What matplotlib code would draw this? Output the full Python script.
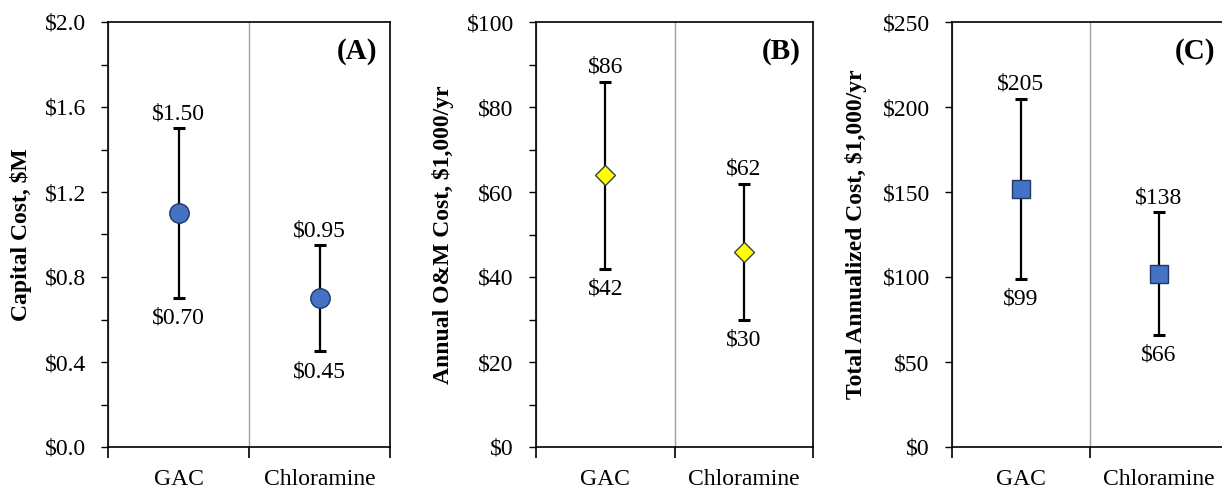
import matplotlib
matplotlib.use("Agg")
import matplotlib.pyplot as plt
from matplotlib.ticker import MultipleLocator, FuncFormatter, FixedLocator
import numpy as np

plt.rcParams['font.family'] = ['Liberation Serif', 'DejaVu Serif']

categories = ["GAC", "Chloramine"]

# Panel A: capital cost, $M
cap_mid = [1.10, 0.70]
cap_low = [0.70, 0.45]
cap_high = [1.50, 0.95]

# Panel B: annual O&M cost, $1,000/yr
om_mid = [64, 46]
om_low = [42, 30]
om_high = [86, 62]

# Panel C: total annualized cost, $1,000/yr
tot_mid = [152, 102]
tot_low = [99, 66]
tot_high = [205, 138]

W, H = 1222, 492
fig = plt.figure(figsize=(W / 100, H / 100), dpi=100)

bottom = (492 - 447) / H
height = 425 / H
FS = 17

panels = [
    dict(left=108 / W, width=282 / W, mid=cap_mid, low=cap_low, high=cap_high,
         ylim=(0, 2.0), major=0.4, minor=0.2, fmt=lambda v: "\\$%.1f" % v,
         lfmt=lambda v: "\\$%.2f" % v, ylabel="Capital Cost, \\$M", tag="(A)",
         marker="o", ms=14, fc="#4472C4", ec="#1F3864", ylx=21),
    dict(left=536 / W, width=277 / W, mid=om_mid, low=om_low, high=om_high,
         ylim=(0, 100), major=20, minor=10, fmt=lambda v: "\\$%d" % round(v),
         lfmt=lambda v: "\\$%d" % round(v), ylabel="Annual O&M Cost, \\$1,000/yr", tag="(B)",
         marker="D", ms=10, fc="#FFFF00", ec="#404040", ylx=443),
    dict(left=952 / W, width=276 / W, mid=tot_mid, low=tot_low, high=tot_high,
         ylim=(0, 250), major=50, minor=None, fmt=lambda v: "\\$%d" % round(v),
         lfmt=lambda v: "\\$%d" % round(v), ylabel="Total Annualized Cost, \\$1,000/yr", tag="(C)",
         marker="s", ms=12.5, fc="#4472C4", ec="#1F3864", ylx=856),
]

x = np.arange(len(categories))

for p in panels:
    ax = fig.add_axes([p["left"], bottom, p["width"], height])
    mid = np.array(p["mid"], dtype=float)
    low = np.array(p["low"], dtype=float)
    high = np.array(p["high"], dtype=float)
    ax.errorbar(x, mid, yerr=[mid - low, high - mid], fmt="none", ecolor="black",
                elinewidth=1.6, capsize=4.5, capthick=2.2, zorder=3)
    ax.plot(x, mid, linestyle="none", marker=p["marker"], markersize=p["ms"],
            markerfacecolor=p["fc"], markeredgecolor=p["ec"], markeredgewidth=1.0, zorder=4)
    for xi, lo, hi in zip(x, low, high):
        ax.annotate(p["lfmt"](hi), (xi, hi), xytext=(0, 6.5), textcoords="offset points",
                    ha="center", va="baseline", fontsize=FS)
        ax.annotate(p["lfmt"](lo), (xi, lo), xytext=(0, -7), textcoords="offset points",
                    ha="center", va="top", fontsize=FS)
    ax.set_xlim(-0.5, len(categories) - 0.5)
    ax.set_ylim(*p["ylim"])
    ax.xaxis.set_major_locator(FixedLocator(np.arange(-0.5, len(categories), 1.0)))
    ax.set_xticks(x, categories, minor=True)
    ax.tick_params(axis="x", which="major", direction="out", length=8, width=1.2, labelbottom=False)
    ax.tick_params(axis="x", which="minor", length=0, labelsize=FS, pad=16)
    ax.xaxis.grid(True, which="major", color="#A0A0A0", linewidth=1.0)
    ax.yaxis.set_major_locator(MultipleLocator(p["major"]))
    if p["minor"]:
        ax.yaxis.set_minor_locator(MultipleLocator(p["minor"]))
    ax.yaxis.set_major_formatter(FuncFormatter(lambda v, pos, f=p["fmt"]: f(v)))
    ax.tick_params(axis="y", which="both", direction="out", length=5, width=1.0, labelsize=FS, pad=11)
    for s in ax.spines.values():
        s.set_linewidth(1.2)
        s.set_color("black")
    ax.text(0.955, 0.93, p["tag"], transform=ax.transAxes, ha="right", va="center",
            fontsize=21, fontweight="bold")
    fig.text(p["ylx"] / W, bottom + height / 2, p["ylabel"], rotation=90, ha="center",
             va="center", fontsize=17, fontweight="bold")

fig.savefig("out.png", dpi=100)
